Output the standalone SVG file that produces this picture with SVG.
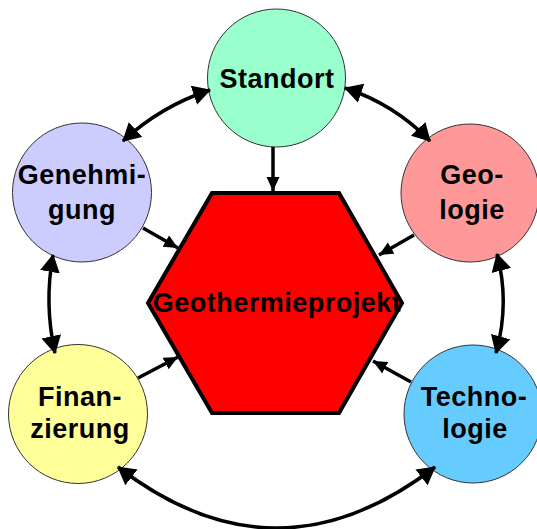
<svg xmlns="http://www.w3.org/2000/svg" width="537" height="529" viewBox="0 0 537 529">
  <style>
    .node circle { stroke: #333333; stroke-width: 1; }
    .lbl { font-family: "Liberation Sans", Arial, sans-serif; font-weight: bold; font-size: 27px; letter-spacing: 0.5px; fill: #000000; text-anchor: middle; }
    .conn { fill: none; stroke: #000000; stroke-width: 3.5; }
  </style>
  <defs>
    <marker id="big" markerUnits="userSpaceOnUse" markerWidth="19" markerHeight="21" refX="17" refY="10" orient="auto-start-reverse" viewBox="0 0 19 21">
      <path d="M0,0 L18,10 L0,20 z" fill="#000000"/>
    </marker>
    <marker id="small" markerUnits="userSpaceOnUse" markerWidth="15" markerHeight="14" refX="14" refY="6.5" orient="auto" viewBox="0 0 15 14">
      <path d="M0,0 L14,6.5 L0,13 z" fill="#000000"/>
    </marker>
  </defs>
  <rect x="0" y="0" width="537" height="529" fill="#ffffff"/>

  <g id="hexagon" class="node">
    <polygon points="212,193 339,193 402,303 339,413 212,413 148,303" fill="#ff0000" stroke="#000000" stroke-width="4" stroke-linejoin="miter"/>
  </g>

  <g id="standort" class="node">
    <circle cx="276.5" cy="78" r="69" fill="#99ffcc"/>
    <text class="lbl" x="277" y="88">Standort</text>
  </g>
  <g id="genehmigung" class="node">
    <circle cx="82" cy="192.5" r="69.5" fill="#ccccff"/>
    <text class="lbl" x="82" y="184">Genehmi-</text>
    <text class="lbl" x="82" y="219">gung</text>
  </g>
  <g id="geologie" class="node">
    <circle cx="470" cy="193" r="69" fill="#ff9999"/>
    <text class="lbl" x="472" y="184">Geo-</text>
    <text class="lbl" x="472" y="219">logie</text>
  </g>
  <g id="finanzierung" class="node">
    <circle cx="78" cy="414" r="69.5" fill="#ffff99"/>
    <text class="lbl" x="80" y="406">Finan-</text>
    <text class="lbl" x="80" y="438">zierung</text>
  </g>
  <g id="technologie" class="node">
    <circle cx="473" cy="414" r="69" fill="#66ccff"/>
    <text class="lbl" x="474" y="406">Techno-</text>
    <text class="lbl" x="475" y="438">logie</text>
  </g>

  <g id="connectors">
    <line class="conn" x1="273" y1="147" x2="273" y2="191" stroke-width="3" marker-end="url(#small)"/>
    <line class="conn" x1="143" y1="228" x2="178" y2="248" stroke-width="3" marker-end="url(#small)"/>
    <line class="conn" x1="414" y1="235" x2="379" y2="255" stroke-width="3" marker-end="url(#small)"/>
    <line class="conn" x1="138" y1="378" x2="178" y2="357" stroke-width="3" marker-end="url(#small)"/>
    <line class="conn" x1="411" y1="382" x2="373" y2="361" stroke-width="3" marker-end="url(#small)"/>

    <path class="conn" d="M210,90 Q161,106 123,141" marker-start="url(#big)" marker-end="url(#big)"/>
    <path class="conn" d="M345,88 Q394,104 430,141" marker-start="url(#big)" marker-end="url(#big)"/>
    <path class="conn" d="M53,255 Q44,304 55,353" marker-start="url(#big)" marker-end="url(#big)"/>
    <path class="conn" d="M497,254 Q510,303 496,353" marker-start="url(#big)" marker-end="url(#big)"/>
    <path class="conn" d="M118,467 Q276.5,589 435,467" marker-start="url(#big)" marker-end="url(#big)"/>
  </g>

  <g id="hexagon-label">
    <text class="lbl" x="277" y="312">Geothermieprojekt</text>
  </g>
</svg>
